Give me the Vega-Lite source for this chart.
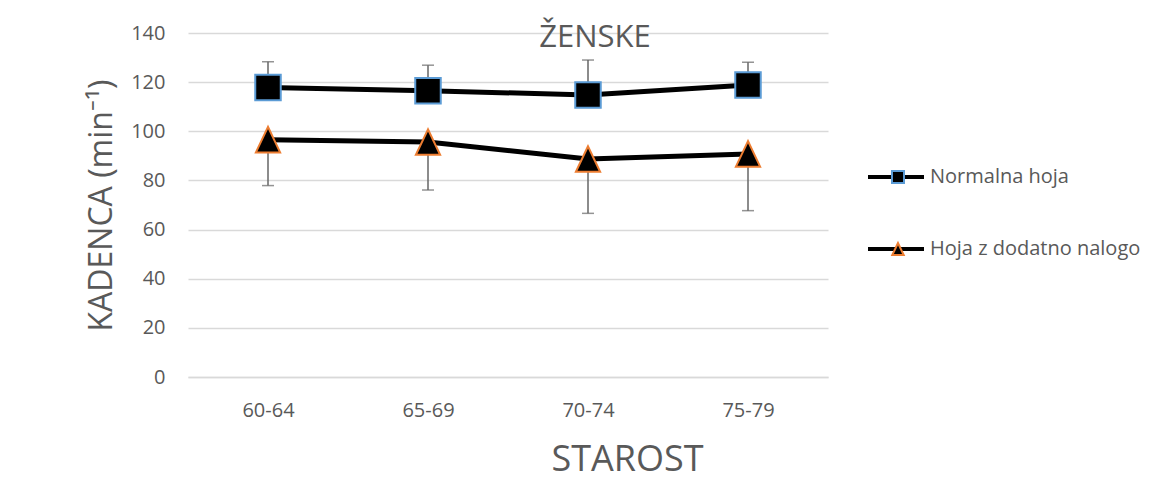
{
  "$schema": "https://vega.github.io/schema/vega-lite/v6.json",
  "autosize": "none",
  "width": 640,
  "height": 344,
  "padding": {"left": 188, "top": 33, "right": 340, "bottom": 103},
  "background": "white",
  "config": {
    "font": "Open Sans",
    "view": {"stroke": null},
    "axis": {"labelColor": "#595959", "titleColor": "#595959", "titleFontWeight": "normal", "ticks": false}
  },
  "title": {
    "text": "ŽENSKE",
    "fontSize": 31,
    "fontWeight": "normal",
    "color": "#595959",
    "anchor": "middle",
    "frame": "group",
    "baseline": "alphabetic",
    "offset": 0,
    "dx": 87,
    "dy": 55
  },
  "data": {
    "values": [
      {"age": "60-64", "series": "Normalna hoja", "mean": 117.8, "err": 128.3},
      {"age": "65-69", "series": "Normalna hoja", "mean": 116.5, "err": 126.9},
      {"age": "70-74", "series": "Normalna hoja", "mean": 114.8, "err": 129.0},
      {"age": "75-79", "series": "Normalna hoja", "mean": 118.8, "err": 128.1},
      {"age": "60-64", "series": "Hoja z dodatno nalogo", "mean": 96.6, "err": 77.9},
      {"age": "65-69", "series": "Hoja z dodatno nalogo", "mean": 95.6, "err": 76.1},
      {"age": "70-74", "series": "Hoja z dodatno nalogo", "mean": 88.7, "err": 66.6},
      {"age": "75-79", "series": "Hoja z dodatno nalogo", "mean": 90.8, "err": 67.7}
    ]
  },
  "encoding": {
    "x": {
      "field": "age",
      "type": "nominal",
      "sort": ["60-64", "65-69", "70-74", "75-79"],
      "scale": {"type": "point", "padding": 0.5},
      "axis": {
        "labelAngle": 0,
        "labelFontSize": 20,
        "labelPadding": 23,
        "domain": true,
        "domainColor": "#d9d9d9",
        "domainWidth": 1.5,
        "title": "STAROST",
        "titleFontSize": 36,
        "titleX": 439,
        "titleY": 93,
        "titleBaseline": "alphabetic",
        "titleAnchor": "middle"
      }
    }
  },
  "layer": [
    {
      "mark": {"type": "rule", "color": "#666666", "strokeWidth": 1.5},
      "encoding": {
        "y": {
          "field": "mean",
          "type": "quantitative",
          "scale": {"domain": [0, 140], "nice": false},
          "axis": {
            "values": [0, 20, 40, 60, 80, 100, 120, 140],
            "grid": true,
            "gridColor": "#d9d9d9",
            "gridWidth": 1.5,
            "domain": false,
            "labelFontSize": 20,
            "labelPadding": 23,
            "title": "KADENCA (min⁻¹)",
            "titleFontSize": 32,
            "titleAngle": -90,
            "titleX": -77,
            "titleY": 172,
            "titleBaseline": "alphabetic",
            "titleAlign": "center"
          }
        },
        "y2": {"field": "err"}
      }
    },
    {
      "mark": {"type": "tick", "color": "#666666", "thickness": 1.5, "size": 12, "orient": "horizontal"},
      "encoding": {
        "y": {"field": "err", "type": "quantitative"}
      }
    },
    {
      "mark": {"type": "line", "strokeWidth": 5},
      "encoding": {
        "y": {"field": "mean", "type": "quantitative"},
        "color": {
          "field": "series",
          "type": "nominal",
          "sort": ["Normalna hoja", "Hoja z dodatno nalogo"],
          "scale": {"range": ["black", "black"]},
          "legend": {
            "title": null,
            "orient": "none",
            "legendX": 678,
            "legendY": 134,
            "padding": 0,
            "symbolType": "stroke",
            "symbolSize": 3136,
            "symbolStrokeWidth": 4,
            "clipHeight": 20,
            "rowPadding": 52,
            "labelFontSize": 20,
            "labelLimit": 400,
            "labelColor": "#595959",
            "labelOffset": 4,
            "labelBaseline": "middle"
          }
        }
      }
    },
    {
      "mark": {"type": "point", "filled": false, "fill": "black", "fillOpacity": 1, "opacity": 1, "strokeWidth": 2, "size": 650},
      "encoding": {
        "y": {"field": "mean", "type": "quantitative"},
        "shape": {
          "field": "series",
          "type": "nominal",
          "scale": {"domain": ["Normalna hoja", "Hoja z dodatno nalogo"], "range": ["square", "M0,-1L-0.95,1L0.95,1Z"]},
          "legend": {
            "title": null,
            "orient": "none",
            "legendX": 700,
            "legendY": 134,
            "padding": 0,
            "symbolSize": 144,
            "symbolStrokeWidth": 2,
            "symbolFillColor": "black",
            "clipHeight": 20,
            "rowPadding": 52,
            "labelFontSize": 20,
            "labelExpr": "''",
            "labelOffset": 4,
            "labelBaseline": "middle",
            "zindex": 2
          }
        },
        "stroke": {
          "field": "series",
          "type": "nominal",
          "scale": {"domain": ["Normalna hoja", "Hoja z dodatno nalogo"], "range": ["#5b9bd5", "#ed7d31"]},
          "legend": {
            "title": null,
            "orient": "none",
            "legendX": 700,
            "legendY": 134,
            "padding": 0,
            "symbolSize": 144,
            "symbolStrokeWidth": 2,
            "symbolFillColor": "black",
            "clipHeight": 20,
            "rowPadding": 52,
            "labelFontSize": 20,
            "labelExpr": "''",
            "labelOffset": 4,
            "labelBaseline": "middle",
            "zindex": 2
          }
        }
      }
    }
  ]
}
